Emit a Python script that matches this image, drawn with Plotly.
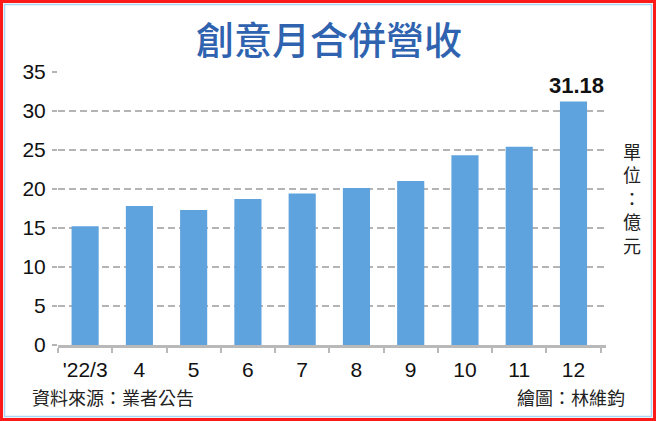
import plotly.graph_objects as go

W, H = 656, 421

# Data
categories = ["'22/3", "4", "5", "6", "7", "8", "9", "10", "11", "12"]
revenue = [15.2, 17.8, 17.3, 18.7, 19.4, 20.1, 21.0, 24.3, 25.4, 31.18]
label_index = 9
y_ticks = [0, 5, 10, 15, 20, 25, 30, 35]
title_text = "創意月合併營收"
unit_chars = ["單", "位", "：", "億", "元"]
source_text = "資料來源：業者公告"
credit_text = "繪圖：林維鈞"

NUM_FONT = "Liberation Sans, Arial, sans-serif"
CJK_FONT = "Noto Sans CJK TC, Noto Sans CJK SC, sans-serif"

def px(x):
    return x / W

def py(y):
    return 1 - y / H

fig = go.Figure()
fig.add_trace(go.Bar(
    x=categories, y=revenue,
    marker=dict(color="#5fa3de", line=dict(width=0)),
    cliponaxis=False,
))

fig.update_layout(
    width=W, height=H,
    margin=dict(l=0, r=0, t=0, b=0),
    paper_bgcolor="white", plot_bgcolor="white",
    showlegend=False,
    bargap=0.5,
    xaxis=dict(
        type="category",
        categoryorder="array", categoryarray=categories,
        domain=[px(58), px(606)],
        showgrid=False, zeroline=False,
        showline=True, linecolor="#b9b9b9", linewidth=2.5,
        ticks="outside", tickson="boundaries", ticklen=5, tickcolor="#b9b9b9", tickwidth=1.5,
        tickfont=dict(family=NUM_FONT, size=21, color="#111111"),
        tickangle=0, automargin=False,
        ticklabelstandoff=4,
    ),
    yaxis=dict(
        domain=[py(345), py(71.7)],
        range=[0, 35],
        tickvals=y_ticks,
        showgrid=True, gridcolor="#b4b4b4", gridwidth=2, griddash="7px,4px",
        zeroline=False, showline=False,
        ticks="outside", ticklen=5, tickcolor="#b4b4b4", tickwidth=2,
        tickfont=dict(family=NUM_FONT, size=21, color="#111111"),
        automargin=False,
        ticklabelstandoff=2,
    ),
    font=dict(family=NUM_FONT),
)

ann = []
ann.append(dict(x=label_index, y=revenue[label_index], xref="x", yref="y",
                text=f"{revenue[label_index]:.2f}", showarrow=False,
                xanchor="center", yanchor="bottom", yshift=2, xshift=3,
                font=dict(family=NUM_FONT, size=22, color="#111111", weight="bold")))
ann.append(dict(x=px(329), y=py(38), xref="paper", yref="paper", text=title_text,
                showarrow=False, xanchor="center", yanchor="middle",
                font=dict(family=CJK_FONT, size=38, color="#2f63b0", weight=500)))
ann.append(dict(x=px(632), y=py(198), xref="paper", yref="paper",
                text="<br>".join(unit_chars),
                showarrow=False, xanchor="center", yanchor="middle", align="center",
                font=dict(family=CJK_FONT, size=18, color="#222222")))
ann.append(dict(x=px(30), y=py(397), xref="paper", yref="paper", text=source_text,
                showarrow=False, xanchor="left", yanchor="middle",
                font=dict(family=CJK_FONT, size=18, color="#222222")))
ann.append(dict(x=px(627), y=py(397), xref="paper", yref="paper", text=credit_text,
                showarrow=False, xanchor="right", yanchor="middle",
                font=dict(family=CJK_FONT, size=18, color="#222222")))
fig.update_layout(annotations=ann)

fig.update_layout(shapes=[
    dict(type="rect", xref="paper", yref="paper",
         x0=px(1.5), x1=px(W - 1.5), y0=py(H - 1.5), y1=py(1.5),
         line=dict(color="#ff1a1a", width=3), fillcolor="rgba(0,0,0,0)"),
    dict(type="rect", xref="paper", yref="paper",
         x0=px(4.5), x1=px(W - 4.5), y0=py(H - 4.5), y1=py(4.5),
         line=dict(color="#a9d4f2", width=1.5), fillcolor="rgba(0,0,0,0)"),
])

fig.write_html("out.html", config={"displayModeBar": False},
               post_script="document.body.style.margin='0';document.body.style.overflow='hidden';")
